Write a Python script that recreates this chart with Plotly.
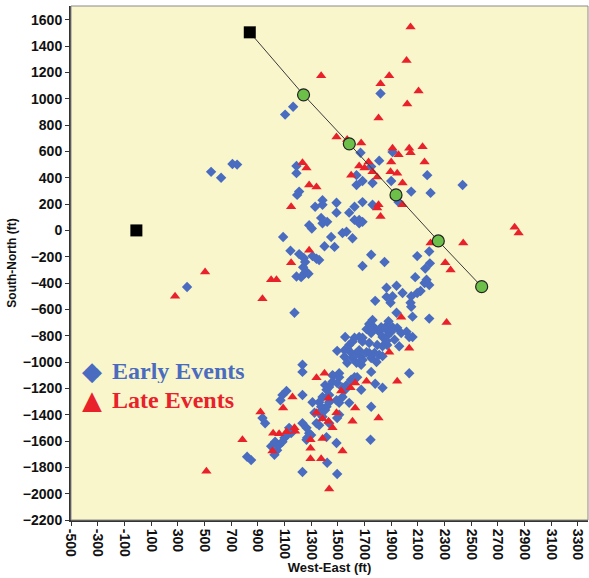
import plotly.graph_objects as go

# ---- data (ft) ----
early_x = [550, 625, 710, 745, 1105, 1165, 1820, 1090, 1145, 1190, 1190, 1210, 1195, 370, 1175, 1190, 1225,
           1330, 1385, 1385, 1490, 1490, 1375, 1420, 1385, 1285, 1305, 1450, 1535, 1565, 1610, 1400, 1475,
           1670, 1910, 1810, 1750, 1640, 1685, 1640, 1760, 1900, 2170, 2050, 2195, 2435, 1955, 1685, 1625, 1760, 1585, 1625, 1660, 1685, 1660,
           1750, 1685, 1850,
           1210, 1245, 1255, 1310, 1340, 1360, 1240, 1250, 1280, 1265,
           2095, 2185, 2155, 2190, 2080, 2150, 2165, 2120, 2095, 2185,
           1940, 1865, 1985, 1910, 1865, 1780, 1895, 2050, 2045, 2050, 1940, 2060, 2185, 1760, 1735, 1715, 1775, 1810, 1880, 1870,
           1865, 1900, 1945, 1870, 1835, 1975, 2015, 2035, 2060, 1925, 1555, 1610, 1685, 1735, 1795, 1870, 1960, 1495, 1570, 1600,
           1660, 1715, 1775, 1835, 1550, 1610, 1685, 1750, 1790, 1570, 1640, 1675,
           1750, 1825, 1865, 1910, 1835, 1810, 1735, 1685, 1660, 1625, 1585, 1550, 1640, 1675,
           1510, 1465, 1460, 1510, 1435, 1415, 1495, 1535, 1565, 1600, 1625, 1645, 1675, 1780, 1835, 1435, 1385, 1360, 1235, 1310,
           1375, 1415, 1435, 1510, 1585, 1750, 1325, 1360, 1385, 1340, 1435, 1235, 1265, 1285, 1270, 1490, 1745, 1420, 1235, 1495,
           1235, 1235, 1405, 1460, 1405, 1490, 1535, 1555, 1750, 1300, 1265, 1510, 1495, 1360, 1415, 1135, 1150, 2035,
           1085, 1115, 1070, 935, 955, 1000, 1030, 1060, 1085, 1045, 1025, 1100, 1115, 820, 850]
early_y = [445, 400, 505, 500, 880, 940, 1040, -50, -155, 490, 435, 295, 270, -430, -625, -350, -355,
           180, 230, 195, 210, 135, 95, 65, 55, 40, 15, -50, -20, -10, -60, -120, -125,
           590, 595, 530, 485, 420, 375, 345, 360, 375, 420, 295, 285, 345, 215, 215, 180, 195, 135, 80, 80, 65, 55,
           -185, -270, -240,
           -180, -210, -240, -195, -215, -225, -280, -325, -330, -315,
           -195, -160, -290, -250, -355, -400, -375, -460, -475, -415,
           -420, -435, -475, -500, -505, -535, -550, -500, -550, -580, -625, -655, -670, -680, -710, -750, -740, -770, -690, -720,
           -755, -770, -740, -800, -810, -780, -770, -810, -810, -830, -810, -845, -815, -855, -870, -870, -880, -915, -895, -930,
           -910, -925, -930, -955, -960, -970, -985, -970, -1000, -1005, -1005, -1020,
           -780, -735, -840, -735, -880, -945, -930, -845, -810, -815, -870, -910, -930, -960,
           -1085, -1105, -1150, -1115, -1190, -1210, -1160, -1195, -1175, -1135, -1115, -1115, -1210, -1165, -1195, -1250, -1265, -1305, -1250, -1305,
           -1340, -1340, -1305, -1310, -1310, -1340, -1385, -1385, -1415, -1465, -1465, -1465, -1500, -1540, -1575, -1615, -1590, -1765, -1835, -1850,
           -1020, -1075, -1175, -1100, -1365, -1290, -1265, -1210, -1075, -1555, -1590, -1400, -1425, -1480, -1570, -1500, -1540, -1085,
           -1250, -1220, -1290, -1425, -1465, -1640, -1605, -1630, -1605, -1670, -1705, -1575, -1560, -1720, -1745]

late_x = [2045, 2015, 1885, 1375, 1820, 2105, 2020, 1805, 1490, 1570, 1675, 1910, 2035, 2045, 2135, 1955, 2150, 1900, 1895, 1945,
          1660, 1700, 1730, 1760, 1795, 1600, 1985, 1985, 1805, 1795, 1820, 1235, 1265, 1285, 1340, 1150, 2440, 2195, 2305, 2345,
          2825, 2855, 1285, 1150, 505, 280, 1000, 1040, 935,
          2315, 1975, 2035, 1885, 1945, 1715, 1630, 1595, 1525, 1400, 1340, 1160, 1090, 1430, 1340, 1385, 1430, 1490, 1630, 1610,
          1460, 1805, 1385, 1295, 1295, 1535, 1295, 1375, 1435, 1175, 1180, 1115, 1060, 1015, 1010, 785, 515, 920]
late_y = [1545, 1290, 1175, 1175, 1115, 1060, 960, 855, 710, 690, 665, 625, 625, 590, 635, 575, 520, 520, 445, 435,
          490, 475, 520, 445, 405, 420, 360, 195, 195, 170, 105, 515, 475, 345, 330, 180, -95, -95, -245, -300,
          25, -20, -150, -245, -315, -500, -375, -375, -520,
          -700, -660, -895, -925, -1145, -1145, -1160, -1195, -1220, -1085, -1120, -1265, -1350, -1275, -1385, -1430, -1450, -1385, -1350, -1450,
          -1500, -1425, -1580, -1590, -1655, -1675, -1735, -1735, -1965, -1500, -1525, -1530, -1545, -1540, -1675, -1590, -1830, -1380]

well_x = [840, -10]
well_y = [1505, 0]
path_x = [840, 1243, 1586, 1936, 2253, 2578]
path_y = [1505, 1030, 658, 270, -80, -427]
stage_x = path_x[1:]
stage_y = path_y[1:]

legend_labels = ["Early Events", "Late Events"]
x_ticks = list(range(-500, 3301, 200))
y_ticks = list(range(-2200, 1601, 200))

BLUE = "#4a6cc0"
RED = "#e8212a"

fig = go.Figure()
fig.add_trace(go.Scatter(x=early_x, y=early_y, mode="markers", name=legend_labels[0],
                         marker=dict(symbol="diamond", size=8, color=BLUE), showlegend=False))
fig.add_trace(go.Scatter(x=late_x, y=late_y, mode="markers", name=legend_labels[1],
                         marker=dict(symbol="triangle-up", size=9, color=RED), showlegend=False))
fig.add_trace(go.Scatter(x=path_x, y=path_y, mode="lines", line=dict(color="#3a3a3a", width=1), showlegend=False))
fig.add_trace(go.Scatter(x=well_x, y=well_y, mode="markers",
                         marker=dict(symbol="square", size=12, color="black"), showlegend=False))
fig.add_trace(go.Scatter(x=stage_x, y=stage_y, mode="markers",
                         marker=dict(symbol="circle", size=12, color="#6cc04a", line=dict(color="#222222", width=1.2)),
                         showlegend=False))

# legend drawn as annotations (fixed box heights so rows don't collide)
rows = [(0.29, "◆", BLUE, legend_labels[0]), (0.234, "▲", RED, legend_labels[1])]
for yy, sym, col, lab in rows:
    fig.add_annotation(xref="paper", yref="paper", x=0.04, y=yy, text=sym, showarrow=False,
                       font=dict(family="DejaVu Sans", size=26, color=col), xanchor="center", yanchor="middle",
                       height=24, width=24, valign="middle")
    fig.add_annotation(xref="paper", yref="paper", x=0.076, y=yy, text="<b>" + lab + "</b>", showarrow=False,
                       font=dict(family="Liberation Serif", size=24, color=col), xanchor="left", yanchor="middle",
                       height=24, valign="middle")

fig.add_shape(type="rect", xref="paper", yref="paper", x0=0, y0=0, x1=1, y1=1,
              line=dict(color="#8a8a8a", width=1), layer="above")

fig.update_xaxes(range=[-500, 3375], tickvals=x_ticks, ticktext=[str(v) for v in x_ticks], tickangle=90,
                 showgrid=False, zeroline=False, showline=True, linecolor="#333333", linewidth=2,
                 ticks="outside", ticklen=4, tickcolor="#333333",
                 tickfont=dict(family="Liberation Sans", size=14, color="#111111", weight="bold"),
                 title=dict(text="<b>West-East (ft)</b>", font=dict(family="Liberation Sans", size=13, color="#111111"),
                            standoff=4))
fig.update_yaxes(range=[-2200, 1705], tickvals=y_ticks, showgrid=False, zeroline=False, showline=True,
                 linecolor="#333333", linewidth=2, ticks="outside", ticklen=4, tickcolor="#333333",
                 tickfont=dict(family="Liberation Sans", size=14, color="#111111", weight="bold"),
                 title=dict(text="<b>South-North (ft)</b>", font=dict(family="Liberation Sans", size=12, color="#111111"),
                            standoff=4))

fig.update_layout(width=589, height=578, margin=dict(l=71, r=1, t=6, b=58),
                  plot_bgcolor="#faf6cc", paper_bgcolor="white")

fig.write_html("out.html")
